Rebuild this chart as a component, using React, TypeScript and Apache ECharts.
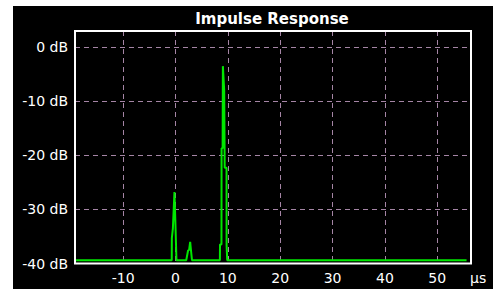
import React, { useEffect, useRef } from "react";
import * as echarts from "echarts";

const titleText = "Impulse Response";
const xUnit = "µs";
const yUnit = "dB";

// time (µs) samples of the response trace
const timeUs = [
  -19.2, -0.72, -0.7, -0.5, -0.2, 0.0, 0.1, 0.18, 0.2,
  2.05, 2.4, 2.6, 2.8, 2.95, 3.15,
  8.48, 8.5, 8.78, 8.8, 9.0, 9.05, 9.3, 9.4, 9.75, 9.76, 9.87, 9.88,
  55.6,
];
// level (dB) at each sample
const levelDb = [
  -39.4, -39.4, -35.3, -33.5, -26.8, -33.2, -33.2, -39.4, -39.4,
  -39.4, -37.6, -37.5, -36.0, -37.5, -39.4,
  -39.4, -36.5, -36.5, -18.7, -18.7, -3.5, -7.9, -22.3, -22.3, -36.6, -36.6, -39.4,
  -39.4,
];

const yTicks = [0, -10, -20, -30, -40];
const xTicks = [-10, 0, 10, 20, 30, 40, 50];

export default function App() {
  const ref = useRef<HTMLDivElement>(null);
  useEffect(() => {
    if (!ref.current) return;
    const chart = echarts.init(ref.current, null, { renderer: "svg" });
    const data = timeUs.map((t, i) => [t, levelDb[i]]);
    const font = "DejaVu Sans";
    const gridLine = {
      show: true,
      lineStyle: { color: "#a585a5", width: 1, type: [5, 4] as any },
    };
    chart.setOption({
      animation: false,
      backgroundColor: "#ffffff",
      grid: {
        left: 75,
        top: 31,
        width: 396,
        height: 232.5,
        show: true,
        borderColor: "#ffffff",
        borderWidth: 2,
        backgroundColor: "transparent",
        z: 5,
      },
      graphic: [
        {
          type: "rect",
          z: -10,
          silent: true,
          shape: { x: 13, y: 6, width: 480, height: 290 },
          style: { fill: "#000000" },
        },
        {
          type: "text",
          z: 10,
          x: 272,
          y: 18.5,
          style: {
            text: titleText,
            fill: "#ffffff",
            font: `bold 15px "${font}"`,
            align: "center",
            verticalAlign: "middle",
          },
        },
        {
          type: "text",
          z: 10,
          x: 470,
          y: 278,
          style: {
            text: xUnit,
            fill: "#ffffff",
            font: `14px "${font}"`,
            align: "left",
            verticalAlign: "middle",
          },
        },
      ],
      xAxis: {
        type: "value",
        min: -19.2,
        max: 56.45,
        splitNumber: 8,
        minInterval: 10,
        maxInterval: 10,
        axisLine: { show: false },
        axisTick: { show: false },
        splitLine: gridLine,
        axisLabel: {
          color: "#ffffff",
          fontFamily: font,
          fontSize: 14,
          margin: 7,
          showMinLabel: false,
          showMaxLabel: false,
          formatter: (v: number) => (xTicks.includes(v) ? String(v) : ""),
        },
      },
      yAxis: {
        type: "value",
        min: -40,
        max: 3,
        interval: 10,
        axisLine: { show: false },
        axisTick: { show: false },
        splitLine: gridLine,
        axisLabel: {
          color: "#ffffff",
          fontFamily: font,
          fontSize: 14,
          margin: 7,
          formatter: (v: number) => (yTicks.includes(v) ? `${v} ${yUnit}` : ""),
        },
      },
      series: [
        {
          type: "line",
          data,
          showSymbol: false,
          symbol: "none",
          clip: true,
          lineStyle: { color: "#00e800", width: 2 },
          z: 3,
        },
      ],
    });
    return () => chart.dispose();
  }, []);
  return (
    <div
      ref={ref}
      style={{ position: "fixed", left: 0, top: 0, width: 502, height: 289 }}
    />
  );
}
